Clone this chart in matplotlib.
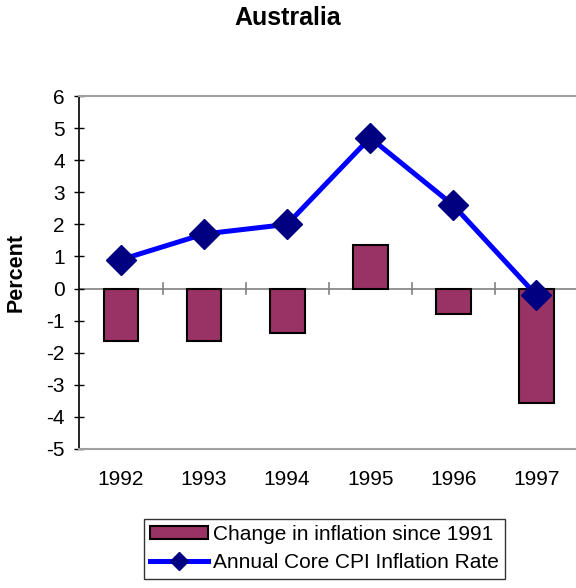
import numpy as np
import matplotlib.pyplot as plt
from matplotlib.lines import Line2D

years = ['1992', '1993', '1994', '1995', '1996', '1997']
change_since_1991 = [-1.65, -1.65, -1.4, 1.35, -0.78, -3.56]
core_cpi = [0.9, 1.7, 2.0, 4.7, 2.6, -0.2]

plt.rcParams['font.family'] = ['Liberation Sans', 'DejaVu Sans']
plt.rcParams['axes.unicode_minus'] = False

fig = plt.figure(figsize=(5.76, 5.88), dpi=100)
ax = fig.add_axes([0.138, 0.2364, 0.865, 0.6003])

x = np.arange(len(years))
bars = ax.bar(x, change_since_1991, width=0.42, color='#993366',
              edgecolor='black', linewidth=1.5, zorder=2,
              label='Change in inflation since 1991')
line, = ax.plot(x, core_cpi, color='#0000FF', linewidth=3.6, marker='D',
                markersize=15, markerfacecolor='#000080',
                markeredgecolor='#000080', zorder=3,
                label='Annual Core CPI Inflation Rate')

ax.set_xlim(-0.5, 5.5)
ax.set_ylim(-5, 6)
ax.set_yticks(range(-5, 7))
ax.tick_params(axis='y', labelsize=15, direction='inout', length=7,
               width=1, pad=7)

# category axis sits at zero, ticks crossing between categories
ax.axhline(0, color='#808080', linewidth=1.2, zorder=1)
for b in np.arange(0.5, 5.0, 1.0):
    ax.plot([b, b], [-0.18, 0.18], color='#808080', linewidth=1.2, zorder=1)
ax.set_xticks(x)
ax.set_xticklabels(years, fontsize=15)
ax.tick_params(axis='x', length=0, pad=15)

ax.spines['left'].set_color('black')
ax.spines['left'].set_linewidth(1.2)
for s in ['top', 'bottom']:
    ax.spines[s].set_color('#a0a0a0')
    ax.spines[s].set_linewidth(1.5)
ax.spines['right'].set_visible(False)

ax.set_ylabel('Percent', fontsize=15.5, fontweight='bold')
ax.yaxis.set_label_coords(-0.106, 0.5)
fig.text(0.5, 0.969, 'Australia', ha='center', va='center',
         fontsize=18, fontweight='bold')

leg_line = Line2D([0], [0], color='#0000FF', linewidth=3.6, marker='D',
                  markersize=9, markerfacecolor='#000080',
                  markeredgecolor='#000080')
leg = fig.legend([bars, leg_line],
                 ['Change in inflation since 1991', 'Annual Core CPI Inflation Rate'],
                 loc='center', bbox_to_anchor=(0.563, 0.067), fontsize=15,
                 frameon=True, fancybox=False, edgecolor='black',
                 handlelength=2.8, handletextpad=0.2, borderpad=0.3,
                 labelspacing=0.45, borderaxespad=0, handleheight=0.6)
leg.get_frame().set_linewidth(1.0)

fig.savefig('out.png', dpi=100)
